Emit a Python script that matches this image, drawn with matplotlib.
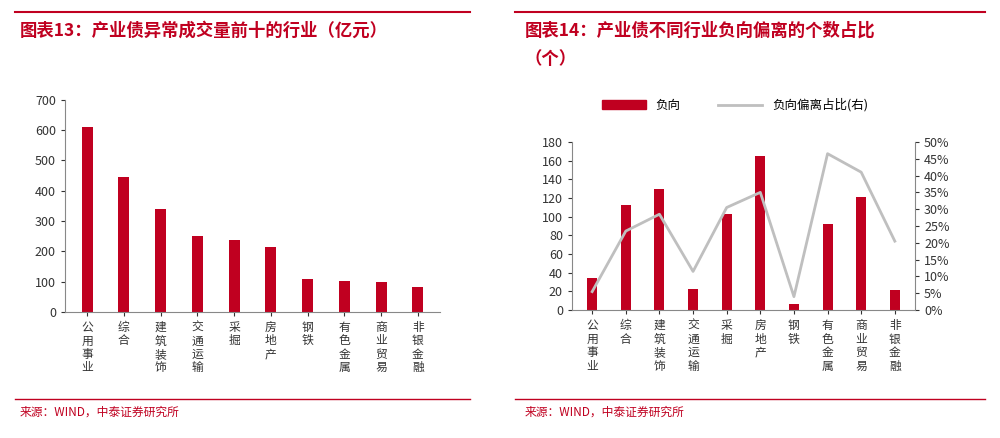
import matplotlib
matplotlib.use("Agg")
import matplotlib.pyplot as plt
from matplotlib.lines import Line2D
from matplotlib.ticker import PercentFormatter

plt.rcParams["font.family"] = "Noto Sans CJK SC"

# data
industries = ["公用事业", "综合", "建筑装饰", "交通运输", "采掘", "房地产", "钢铁", "有色金属", "商业贸易", "非银金融"]
volume = [612, 445, 338, 252, 237, 213, 108, 102, 100, 83]
neg_count = [34, 112, 130, 23, 103, 165, 7, 92, 121, 22]
neg_ratio = [5.5, 23.5, 28.5, 11.5, 30.5, 35.0, 4.0, 46.5, 41.0, 20.5]

red = "#C00020"
gray = "#BFBFBF"
vlabels = ["\n".join(s) for s in industries]

fig = plt.figure(figsize=(10, 4.38), dpi=100)

def style(ax):
    for s in ["top", "right"]:
        ax.spines[s].set_visible(False)
    ax.spines["left"].set_color("#888888")
    ax.spines["bottom"].set_color("#888888")
    ax.tick_params(labelsize=9, colors="#333333", length=3)
    ax.set_xticks(range(len(industries)))
    ax.set_xticklabels(vlabels, fontsize=8.5, linespacing=1.05, va="top")
    ax.set_xlim(-0.6, len(industries) - 0.4)

# left chart
ax1 = fig.add_axes([0.065, 0.288, 0.375, 0.484])
ax1.bar(range(len(industries)), volume, width=0.3, color=red)
ax1.set_ylim(0, 700)
ax1.set_yticks(range(0, 701, 100))
style(ax1)

# right chart
ax2 = fig.add_axes([0.572, 0.292, 0.343, 0.384])
ax2.bar(range(len(industries)), neg_count, width=0.3, color=red)
ax2.set_ylim(0, 180)
ax2.set_yticks(range(0, 181, 20))
style(ax2)
ax3 = ax2.twinx()
ax3.plot(range(len(industries)), neg_ratio, color=gray, lw=2)
ax3.set_ylim(0, 50)
ax3.set_yticks(range(0, 51, 5))
ax3.yaxis.set_major_formatter(PercentFormatter(decimals=0))
ax3.tick_params(labelsize=9, colors="#333333", length=3)
for s in ["top", "left"]:
    ax3.spines[s].set_visible(False)
ax3.spines["right"].set_color("#888888")
ax3.spines["bottom"].set_visible(False)

handles = [plt.Rectangle((0, 0), 1, 1, color=red), Line2D([], [], color=gray, lw=2)]
fig.legend(handles, ["负向", "负向偏离占比(右)"], loc="center", bbox_to_anchor=(0.735, 0.76),
           ncol=2, frameon=False, fontsize=9, handlelength=3.5, columnspacing=3)

# titles, rules and sources
for x0, x1 in [(0.015, 0.47), (0.515, 0.985)]:
    fig.add_artist(Line2D([x0, x1], [0.972, 0.972], color=red, lw=1.5))
    fig.add_artist(Line2D([x0, x1], [0.09, 0.09], color=red, lw=1))
fig.text(0.02, 0.93, "图表13：产业债异常成交量前十的行业（亿元）", color=red, fontsize=12.5,
         fontweight="bold", style="italic", va="center")
fig.text(0.525, 0.93, "图表14：产业债不同行业负向偏离的个数占比", color=red, fontsize=12.5,
         fontweight="bold", style="italic", va="center")
fig.text(0.525, 0.865, "（个）", color=red, fontsize=12.5, fontweight="bold", style="italic", va="center")
fig.text(0.02, 0.058, "来源：WIND，中泰证券研究所", color=red, fontsize=8.5, va="center")
fig.text(0.525, 0.058, "来源：WIND，中泰证券研究所", color=red, fontsize=8.5, va="center")

fig.savefig("out.png", dpi=100)
